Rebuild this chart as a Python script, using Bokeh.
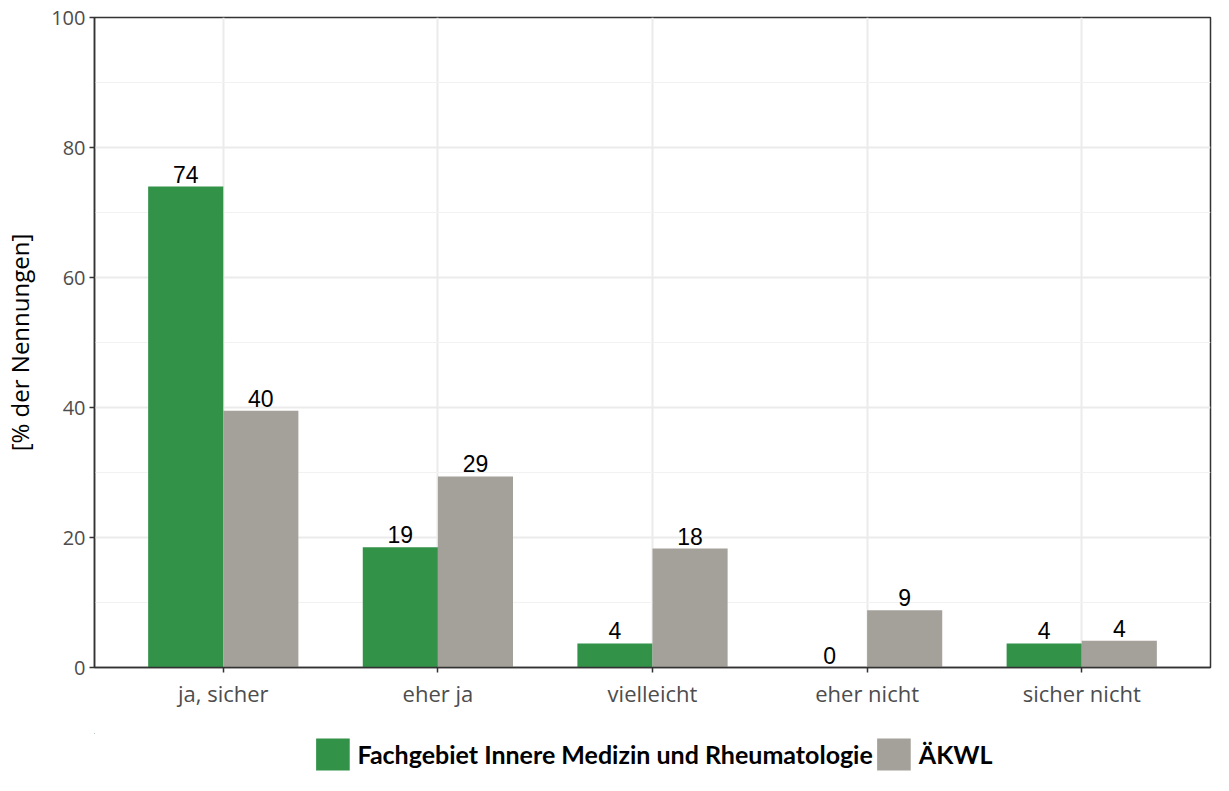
from bokeh.plotting import figure
from bokeh.models import ColumnDataSource, FixedTicker, Range1d, Legend, LegendItem, LabelSet
from bokeh.core.properties import value
from bokeh.layouts import column
from bokeh.embed import file_html
from bokeh.resources import INLINE

categories = ["ja, sicher", "eher ja", "vielleicht", "eher nicht", "sicher nicht"]
series_names = ["Fachgebiet Innere Medizin und Rheumatologie", "ÄKWL"]
fach_values = [74.0, 18.5, 3.7, 0.0, 3.7]
aekwl_values = [39.5, 29.4, 18.3, 8.8, 4.1]
fach_labels = ["74", "19", "4", "0", "4"]
aekwl_labels = ["40", "29", "18", "9", "4"]
y_ticks = [0, 20, 40, 60, 80, 100]

GREEN = "#319248"
GRAY = "#a4a19a"
pos = list(range(1, len(categories) + 1))
bw = 0.35

src_f = ColumnDataSource(dict(x=[p - bw / 2 for p in pos], top=fach_values, lab=fach_labels))
src_a = ColumnDataSource(dict(x=[p + bw / 2 for p in pos], top=aekwl_values, lab=aekwl_labels))

p = figure(width=1213, height=733, output_backend="svg", toolbar_location=None,
           x_range=Range1d(0.4, 5.6), y_range=Range1d(0, 100),
           min_border_left=89, min_border_right=3, min_border_top=17, min_border_bottom=66)

p.vbar(x="x", top="top", width=bw, source=src_f, fill_color=GREEN, line_color=None)
p.vbar(x="x", top="top", width=bw, source=src_a, fill_color=GRAY, line_color=None)

for s in (src_f, src_a):
    p.add_layout(LabelSet(x="x", y="top", text="lab", source=s, text_align="center",
                          text_baseline="bottom", y_offset=4, text_font=value("Liberation Sans"),
                          text_font_size=value("23px"), text_color="#000000"))

p.outline_line_color = "#333333"
p.outline_line_width = 1.5
p.background_fill_color = "white"
p.border_fill_color = "white"

p.xaxis.ticker = FixedTicker(ticks=pos)
p.xaxis.major_label_overrides = {pp: c for pp, c in zip(pos, categories)}
p.yaxis.ticker = FixedTicker(ticks=y_ticks, minor_ticks=[10, 30, 50, 70, 90])
for ax in (p.xaxis, p.yaxis):
    ax.axis_line_color = "#333333"
    ax.axis_line_width = 1.5
    ax.major_tick_line_color = "#333333"
    ax.major_tick_line_width = 1.5
    ax.major_tick_out = 5
    ax.major_tick_in = 0
    ax.minor_tick_line_color = None
    ax.major_label_text_font = "Open Sans"
    ax.major_label_text_color = "#4d4d4d"
p.xaxis.major_label_text_font_size = "22px"
p.yaxis.major_label_text_font_size = "20px"
p.xaxis.major_label_standoff = 5
p.yaxis.major_label_standoff = 4
p.yaxis.axis_label = "[% der Nennungen]"
p.yaxis.axis_label_text_font = "Open Sans"
p.yaxis.axis_label_text_font_style = "normal"
p.yaxis.axis_label_text_font_size = "24px"
p.yaxis.axis_label_text_color = "#000000"
p.yaxis.axis_label_standoff = 12

p.xgrid.ticker = FixedTicker(ticks=pos)
p.xgrid.grid_line_color = "#ebebeb"
p.xgrid.grid_line_width = 2
p.ygrid.grid_line_color = "#ebebeb"
p.ygrid.grid_line_width = 2
p.ygrid.minor_grid_line_color = "#f2f2f2"
p.ygrid.minor_grid_line_width = 1

# legend strip (same series drawn fully out of view so the legend has swatches)
pl = figure(width=1213, height=42, output_backend="svg", toolbar_location=None,
            x_axis_location=None, y_axis_location=None,
            x_range=Range1d(20, 30), y_range=Range1d(-200, -100),
            min_border_left=89, min_border_right=3, min_border_top=0, min_border_bottom=0)
pl.grid.visible = False
pl.outline_line_color = None
l1 = pl.vbar(x="x", top="top", width=bw, source=src_f, fill_color=GREEN, line_color=None)
l2 = pl.vbar(x="x", top="top", width=bw, source=src_a, fill_color=GRAY, line_color=None)

legend = Legend(items=[LegendItem(label=series_names[0], renderers=[l1]),
                       LegendItem(label=series_names[1], renderers=[l2])],
                orientation="horizontal", location="center")
legend.glyph_width = 42
legend.glyph_height = 40
legend.label_standoff = 4
legend.spacing = 0
legend.padding = 0
legend.margin = 0
legend.border_line_color = None
legend.background_fill_alpha = 0
legend.label_text_font = "Lato"
legend.label_text_font_style = "bold"
legend.label_text_font_size = "25px"
legend.label_text_color = "#000000"
pl.add_layout(legend, "center")

layout = column(p, pl, spacing=0)
open("out.html", "w").write(file_html(layout, INLINE))
